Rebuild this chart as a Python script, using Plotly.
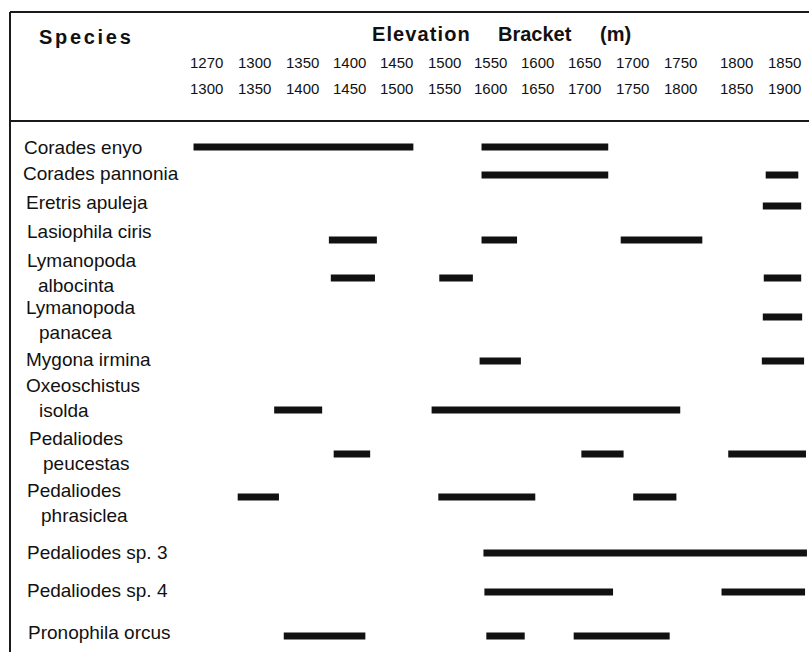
import plotly.graph_objects as go

# ---------------- data ----------------
species = [
    "Corades enyo", "Corades pannonia", "Eretris apuleja", "Lasiophila ciris",
    "Lymanopoda albocinta", "Lymanopoda panacea", "Mygona irmina",
    "Oxeoschistus isolda", "Pedaliodes peucestas", "Pedaliodes phrasiclea",
    "Pedaliodes sp. 3", "Pedaliodes sp. 4", "Pronophila orcus",
]

bracket_low = [1270, 1300, 1350, 1400, 1450, 1500, 1550, 1600, 1650, 1700, 1750, 1800, 1850]
bracket_high = [1300, 1350, 1400, 1450, 1500, 1550, 1600, 1650, 1700, 1750, 1800, 1850, 1900]

# elevation ranges (m) occupied by each species
range_start = [
    [1262, 1562], [1562, 1858], [1855], [1403, 1562, 1707],
    [1405, 1518, 1856], [1855], [1560, 1854], [1346, 1510],
    [1408, 1666, 1819], [1308, 1517, 1720], [1564], [1565, 1812],
    [1356, 1567, 1658],
]
range_end = [
    [1491, 1694], [1694, 1892], [1895], [1453, 1599, 1792],
    [1451, 1553, 1895], [1896], [1603, 1898], [1396, 1769],
    [1446, 1710, 1900], [1351, 1618, 1765], [1901], [1699, 1899],
    [1441, 1607, 1758],
]

# ---------------- layout constants ----------------
W, H = 809, 652
row_y = [147, 175, 206, 240, 278, 317, 361, 410, 454, 497, 553, 592, 636]
label_x = [24, 23, 26, 27, 27, 26, 26, 26, 29, 27, 27, 27, 28]
label_y = [147, 173, 202, 231, 260, 307, 359, 385, 438, 490, 552, 590, 632]
wrapped = [False, False, False, False, True, True, False, True, True, True, False, False, False]
indent_x = [0, 0, 0, 0, 38, 39, 0, 39, 43, 41, 0, 0, 0]
line_gap = 25
tick_xshift = [0, 0, 0, -1, -2, -2, -4, -5, -6, -6, -6, 2, 2]

FONT = "Liberation Sans, Arial, Helvetica, sans-serif"
INK = "#111111"

fig = go.Figure()

# bars
bx, bbase, by = [], [], []
for i, (starts, ends) in enumerate(zip(range_start, range_end)):
    for s, e in zip(starts, ends):
        bbase.append(s)
        bx.append(e - s)
        by.append(row_y[i])
fig.add_trace(go.Bar(
    orientation="h", x=bx, base=bbase, y=by, width=7,
    marker=dict(color=INK, line=dict(width=0)),
    showlegend=False, hoverinfo="skip",
))

annotations = []


def px_x(p):
    return p / W


# species labels
for i, name in enumerate(species):
    if wrapped[i]:
        first, second = name.split(" ", 1)
        annotations.append(dict(text=first, x=px_x(label_x[i] - 2), y=label_y[i]))
        annotations.append(dict(text=second, x=px_x(indent_x[i] - 2), y=label_y[i] + line_gap))
    else:
        annotations.append(dict(text=name, x=px_x(label_x[i] - 2), y=label_y[i]))
for a in annotations:
    a.update(xref="paper", yref="y", xanchor="left", yanchor="middle",
             showarrow=False, font=dict(family=FONT, size=19, color=INK))

# bracket labels (column centres)
for j, (lo, hi) in enumerate(zip(bracket_low, bracket_high)):
    centre = 1275 + 50 * j
    for txt, yy in ((str(lo), 62.5), (str(hi), 88.5)):
        annotations.append(dict(
            text=txt, x=centre, y=yy, xref="x", yref="y", xanchor="center",
            yanchor="middle", xshift=tick_xshift[j], showarrow=False,
            font=dict(family=FONT, size=15, color=INK)))

# headers
hdr_font = dict(family=FONT, size=20, color=INK, weight=700)
for txt, xp, yp in (("Species", 39, 37), ("Elevation", 372, 34),
                    ("Bracket", 498, 34), ("(m)", 600, 34)):
    annotations.append(dict(text=txt, x=px_x(xp - 2), y=yp, xref="paper", yref="y",
                            xanchor="left", yanchor="middle", showarrow=False,
                            font=hdr_font))

# frame lines
line_style = dict(color="#1a1a1a", width=2)
shapes = [
    dict(type="line", xref="paper", yref="y", x0=px_x(10), x1=px_x(10), y0=12, y1=H, line=line_style),
    dict(type="line", xref="paper", yref="y", x0=px_x(10), x1=1, y0=12, y1=12, line=line_style),
    dict(type="line", xref="paper", yref="y", x0=px_x(10), x1=1, y0=121, y1=121, line=line_style),
]

x0_val = 1250 - 182 / 0.96
x1_val = 1250 + (W - 182) / 0.96

fig.update_layout(
    width=W, height=H,
    margin=dict(l=0, r=0, t=0, b=0),
    paper_bgcolor="white", plot_bgcolor="white",
    barmode="overlay",
    xaxis=dict(range=[x0_val, x1_val], visible=False, fixedrange=True),
    yaxis=dict(range=[H, 0], visible=False, fixedrange=True),
    annotations=annotations,
    shapes=shapes,
)

post = """
document.body.style.margin = '0';
document.body.style.padding = '0';
document.body.style.overflow = 'hidden';
var gd = document.getElementById('{plot_id}');
var spacing = {'Species': '2.7px', 'Elevation': '1.1px'};
gd.querySelectorAll('text.annotation-text').forEach(function(t){
  var s = spacing[t.textContent];
  if (s) {
    var b0 = t.getBBox();
    t.style.letterSpacing = s;
    var b1 = t.getBBox();
    var dx = b0.x - b1.x;
    t.setAttribute('transform', 'translate(' + dx + ',0)');
  }
});
"""

fig.write_html("out.html", post_script=post, config={"displayModeBar": False})
